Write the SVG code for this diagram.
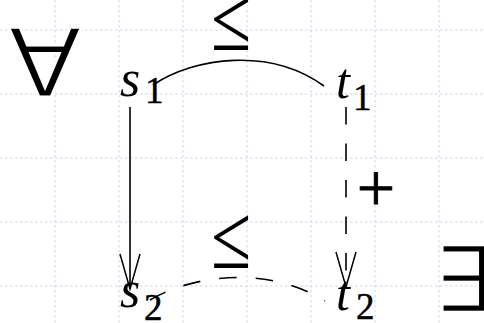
<svg xmlns="http://www.w3.org/2000/svg" width="484" height="323" viewBox="0 0 484 323">
<style>
.grid line{stroke:#c9d3f6;stroke-width:1;stroke-dasharray:2.5 2.5}
.math{font-family:"Liberation Serif","Times New Roman",serif;fill:#000}
.it{font-style:italic}
.sub{stroke:#000;stroke-width:0.5}
.sym{font-family:"DejaVu Sans",sans-serif;fill:#000;stroke:#fff;stroke-width:2.4}
.conn{fill:none;stroke:#000;stroke-width:1.6}
.dash{stroke-dasharray:17.5 19}
.head{fill:none;stroke:#000;stroke-width:1.5;stroke-dasharray:none}
.plus{stroke:#000;stroke-width:0.9}
</style>
<defs>
<marker id="arr" markerUnits="userSpaceOnUse" viewBox="-40 -12 44 24" refX="0" refY="0" markerWidth="44" markerHeight="24" orient="auto" overflow="visible">
<path class="head" d="M-35,-10 L0,0 L-35,10"/>
</marker>
</defs>
<rect width="484" height="323" fill="#fff"/>
<g class="grid">
<line x1="55" y1="0" x2="55" y2="323"/>
<line x1="119" y1="0" x2="119" y2="323"/>
<line x1="183" y1="0" x2="183" y2="323"/>
<line x1="247" y1="0" x2="247" y2="323"/>
<line x1="311" y1="0" x2="311" y2="323"/>
<line x1="375" y1="0" x2="375" y2="323"/>
<line x1="439" y1="0" x2="439" y2="323"/>
<line x1="0" y1="30" x2="484" y2="30"/>
<line x1="0" y1="94" x2="484" y2="94"/>
<line x1="0" y1="158" x2="484" y2="158"/>
<line x1="0" y1="222" x2="484" y2="222"/>
<line x1="0" y1="286" x2="484" y2="286"/>
</g>
<g id="connectors">
<path class="conn" d="M153,85 C195,57 270,47 324,86"/>
<path class="conn dash" d="M150,300 C192,275 268,265 325,301"/>
<line class="conn" x1="130" y1="107" x2="130" y2="289" marker-end="url(#arr)"/>
<line class="conn dash" x1="346" y1="107" x2="346" y2="287" marker-end="url(#arr)"/>
</g>
<g id="forall"><text class="sym" transform="translate(8,97) scale(1.14,1)" font-size="95">∀</text></g>
<g id="exists"><text class="sym" transform="translate(433,312) scale(1.04,1)" font-size="92">∃</text></g>
<g id="s1"><text class="math it" x="120" y="96" font-size="52">s</text><text class="math sub" x="145" y="103" font-size="37">1</text></g>
<g id="t1"><text class="math it" x="336" y="98" font-size="50">t</text><text class="math sub" x="353" y="110" font-size="37">1</text></g>
<g id="s2"><text class="math it" x="120" y="307" font-size="52">s</text><text class="math sub" x="144" y="320" font-size="37">2</text></g>
<g id="t2"><text class="math it" x="336" y="310" font-size="50">t</text><text class="math sub" x="356" y="319" font-size="37">2</text></g>
<g id="label-le-top"><text class="math" transform="translate(231,50) scale(1,1.26)" font-size="73" text-anchor="middle">≤</text></g>
<g id="label-le-bottom"><text class="math" transform="translate(231,268) scale(1,1.26)" font-size="73" text-anchor="middle">≤</text></g>
<g id="label-plus"><text class="math plus" x="376" y="211" font-size="68" text-anchor="middle">+</text></g>
</svg>
